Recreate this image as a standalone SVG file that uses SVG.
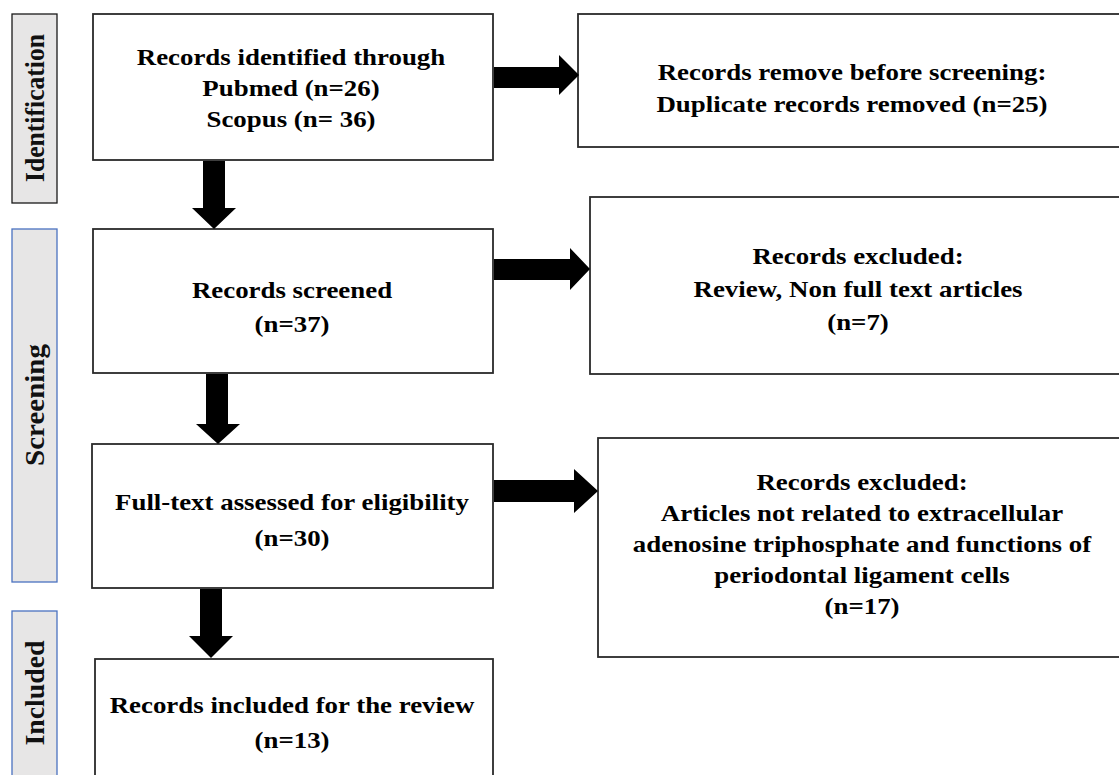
<svg xmlns="http://www.w3.org/2000/svg" width="1119" height="775" viewBox="0 0 1119 775">
<style>
.box{fill:#fff;stroke:#2a2a2a;stroke-width:1.8}
.side{fill:#e7e6e6;stroke-width:1.3}
.t{font-family:"Liberation Serif","Times New Roman",serif;font-weight:bold;font-size:24px;fill:#000;text-anchor:middle}
.s{font-family:"Liberation Serif","Times New Roman",serif;font-weight:bold;font-size:24px;fill:#111;text-anchor:middle;dominant-baseline:central}
.arr{fill:#000}
</style>
<rect width="1119" height="775" fill="#fff"/>
<g id="stage-identification">
<rect class="side" x="12" y="14" width="45" height="189" stroke="#1a1a1a"/>
<text class="s" transform="translate(35 108) scale(1.15 1) rotate(-90)" textLength="148" lengthAdjust="spacingAndGlyphs">Identification</text>
</g>
<g id="stage-screening">
<rect class="side" x="12" y="229" width="45" height="353" stroke="#4a72c0"/>
<text class="s" transform="translate(35 405) scale(1.15 1) rotate(-90)" textLength="122" lengthAdjust="spacingAndGlyphs">Screening</text>
</g>
<g id="stage-included">
<rect class="side" x="12" y="611" width="45" height="180" stroke="#4a72c0"/>
<text class="s" transform="translate(35 693) scale(1.15 1) rotate(-90)" textLength="105" lengthAdjust="spacingAndGlyphs">Included</text>
</g>
<g id="identified">
<rect class="box" x="93" y="14" width="400" height="146"/>
<text class="t" transform="translate(291 0) scale(1.12 1)"><tspan x="0" y="65">Records identified through</tspan><tspan x="0" y="96">Pubmed  (n=26)</tspan><tspan x="0" y="127">Scopus (n= 36)</tspan></text>
</g>
<g id="removed">
<rect class="box" x="578" y="14" width="560" height="133"/>
<text class="t" transform="translate(852 0) scale(1.12 1)"><tspan x="0" y="80">Records remove before screening:</tspan><tspan x="0" y="112">Duplicate records removed (n=25)</tspan></text>
</g>
<g id="screened">
<rect class="box" x="93" y="229" width="400" height="144"/>
<text class="t" transform="translate(292 0) scale(1.12 1)"><tspan x="0" y="298">Records screened</tspan><tspan x="0" y="332">(n=37)</tspan></text>
</g>
<g id="excluded1">
<rect class="box" x="590" y="197" width="560" height="177"/>
<text class="t" transform="translate(858 0) scale(1.12 1)"><tspan x="0" y="264">Records excluded:</tspan><tspan x="0" y="297">Review, Non full text articles</tspan><tspan x="0" y="330">(n=7)</tspan></text>
</g>
<g id="fulltext">
<rect class="box" x="92" y="444" width="401" height="144"/>
<text class="t" transform="translate(292 0) scale(1.12 1)"><tspan x="0" y="510">Full-text assessed for eligibility</tspan><tspan x="0" y="546">(n=30)</tspan></text>
</g>
<g id="excluded2">
<rect class="box" x="598" y="438" width="560" height="219"/>
<text class="t" transform="translate(862 0) scale(1.12 1)"><tspan x="0" y="490">Records excluded:</tspan><tspan x="0" y="521">Articles not related to extracellular</tspan><tspan x="0" y="552">adenosine triphosphate and functions of</tspan><tspan x="0" y="583">periodontal ligament cells</tspan><tspan x="0" y="614">(n=17)</tspan></text>
</g>
<g id="included">
<rect class="box" x="95" y="659" width="398" height="140"/>
<text class="t" transform="translate(292 0) scale(1.12 1)"><tspan x="0" y="713">Records included for the review</tspan><tspan x="0" y="748">(n=13)</tspan></text>
</g>
<g id="connectors">
<polygon class="arr" points="203,161 225,161 225,208 236,208 214,229 192,208 203,208"/>
<polygon class="arr" points="206,374 228,374 228,424 240,424 218,444 196,424 206,424"/>
<polygon class="arr" points="200,589 222,589 222,636 233,636 211,658 189,636 200,636"/>
<polygon class="arr" points="494,67 559,67 559,55 579,75 559,95 559,88 494,88"/>
<polygon class="arr" points="494,259 570,259 570,248 590,269 570,290 570,280 494,280"/>
<polygon class="arr" points="494,480 574,480 574,469 598,491 574,513 574,502 494,502"/>
</g>
</svg>
